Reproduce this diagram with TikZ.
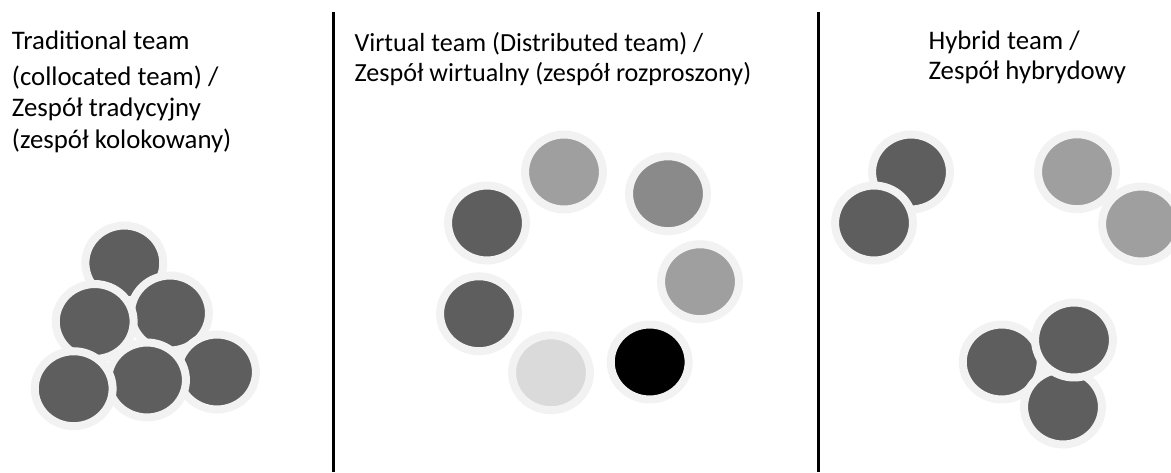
\documentclass[tikz,border=0pt]{standalone}
\usepackage{fontspec}
\setmainfont{Carlito}
\usepackage{xcolor}
\usepackage{tikz}
\definecolor{ringgray}{HTML}{F2F2F2}
\definecolor{darkgray}{HTML}{5E5E5E}
\definecolor{midgray}{HTML}{8A8A8A}
\definecolor{lightgray}{HTML}{9F9F9F}
\definecolor{palegray}{HTML}{DADADA}
\tikzset{
	member/.style={
			draw=ringgray, line width=6pt, fill=#1
		},
	title/.style={
			anchor=base west, align=left, inner sep=0pt,
			font=\fontsize{#1}{22.5}\selectfont
		},
	divider/.style={line width=2pt}
}
\newcommand{\member}[3]{\draw[member=#3] (#1,#2) ellipse [x radius=29.2pt, y radius=28.1pt];}

\begin{document}
\begin{tikzpicture}[x=0.75pt,y=-0.75pt]
		\useasboundingbox (0,0) rectangle (1171,472);
		% dividers
		\coordinate (d1top) at (333.3,12);
		\coordinate (d1bot) at (333.3,472);
		\coordinate (d2top) at (818.3,12);
		\coordinate (d2bot) at (818.3,472);
		\draw[divider] (d1top) -- (d1bot);
		\draw[divider] (d2top) -- (d2bot);
		% titles (anchored on the last line)
		\node[title=20.1] (trad) at (11.7,148) {Traditional team\\[4.3pt](collocated team) /\\[1.2pt]Zespół tradycyjny\\[1pt](zespół kolokowany)};
		\node[title=19.6] (virt) at (354.3,81.7) {Virtual team (Distributed team) /\\Zespół wirtualny (zespół rozproszony)};
		\node[title=20.1] (hyb) at (928.3,79.5) {Hybrid team /\\Zespół hybrydowy};
		% traditional team
		\member{124.3}{263}{darkgray}
		\member{170}{313}{darkgray}
		\member{94.7}{321.5}{darkgray}
		\member{217}{372}{darkgray}
		\member{147}{380}{darkgray}
		\member{73.7}{388.7}{darkgray}
		% virtual team
		\member{564}{172}{lightgray}
		\member{668}{193.7}{midgray}
		\member{487}{223}{darkgray}
		\member{700}{281.7}{lightgray}
		\member{479}{313.7}{darkgray}
		\member{551}{372.7}{palegray}
		\member{649.7}{362}{black}
		% hybrid team
		\member{911}{172}{darkgray}
		\member{874}{223}{darkgray}
		\member{1077}{171.7}{lightgray}
		\member{1141}{224}{lightgray}
		\member{1001.7}{362}{darkgray}
		\member{1063}{407}{darkgray}
		\member{1074}{340}{darkgray}
	\end{tikzpicture}
\end{document}
